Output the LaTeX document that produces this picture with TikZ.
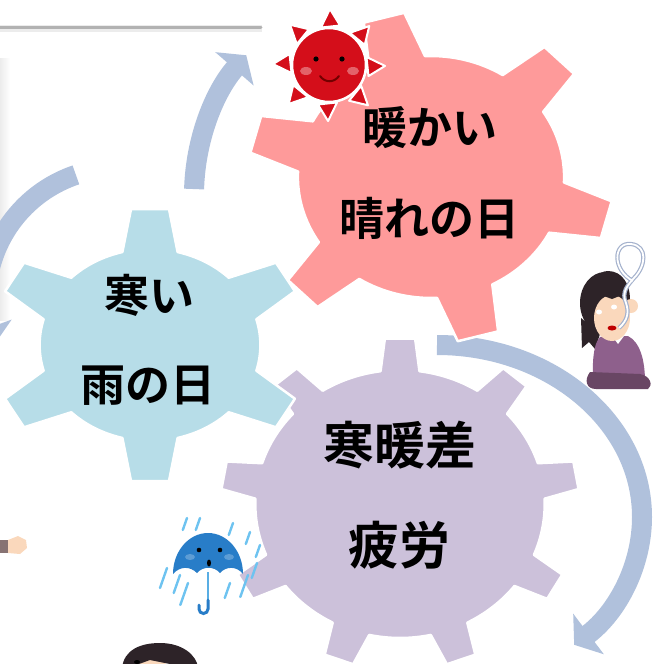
\documentclass[tikz,border=0pt]{standalone}
\usepackage{fontspec}
\newfontfamily\jpfont{Noto Sans CJK JP}[BoldFont={Noto Sans CJK JP Bold}]
\usetikzlibrary{arrows.meta}

\definecolor{coldgear}{RGB}{183,221,232}
\definecolor{warmgear}{RGB}{254,154,154}
\definecolor{tiredgear}{RGB}{204,193,218}
\definecolor{arcblue}{RGB}{176,193,220}
\definecolor{sunred}{RGB}{212,14,26}
\definecolor{umbrellablue}{RGB}{40,125,200}
\definecolor{rainblue}{RGB}{110,195,240}
\definecolor{hair}{RGB}{45,35,40}
\definecolor{skin}{RGB}{250,216,188}
\definecolor{sweater}{RGB}{142,96,140}
\definecolor{skirt}{RGB}{105,70,100}
\definecolor{sleeve}{RGB}{135,115,115}
\definecolor{smokeline}{RGB}{165,178,205}

\tikzset{
  gearedge/.style={draw=white, line width=2.5pt, line join=round},
  cyclearc/.style={draw=arcblue, line width=20pt, -{Triangle[width=50pt, length=18pt]}},
  gearlabel/.style={inner sep=0pt, font=\jpfont\bfseries\fontsize{45}{45}\selectfont},
  rain/.style={rainblue, line width=2.4pt, line cap=round},
}

% gear: colour, centre, xscale, teeth, first tooth angle, body r, tip R, tip half, base half
\newcommand{\gear}[9]{
  \begin{scope}[shift={(#2)}, xscale=#3]
    \pgfmathsetmacro\gstep{360/#4}
    \pgfmathsetmacro\gdb{asin(#9/#6)}
    \pgfmathsetmacro\gdt{asin(#8/#7)}
    \filldraw[fill=#1, gearedge] (#5-\gdb:#6)
      \foreach \i [evaluate=\i as \a using {#5+(\i-1)*\gstep}] in {1,...,#4} {
        -- (\a-\gdt:#7) -- (\a+\gdt:#7) -- (\a+\gdb:#6)
        arc[start angle=\a+\gdb, end angle=\a+\gstep-\gdb, radius=#6]
      } -- cycle;
  \end{scope}
}

\begin{document}
\begin{tikzpicture}[x=1pt, y=-1pt]
\useasboundingbox (0,0) rectangle (661,664);
\clip (0,0) rectangle (661,664);

%Frame shadow and rule
\shade[left color=gray!15, right color=white] (0,58) rectangle (10,320);
\draw[line width=7pt, gray!15] (0,28) -- (262,28);
\draw[line width=3pt, gray!60, line cap=round] (0,27) -- (261,27);

%Cycle arrows
\draw[cyclearc, shift={(118,300)}] (251.4:132) arc[start angle=251.4, end angle=160, radius=132];
\draw[cyclearc, shift={(407,195)}] (181.6:213) arc[start angle=181.6, end angle=221, radius=213];
\draw[cyclearc, shift={(437,517)}] (-90:205 and 172) arc[start angle=-90, end angle=48, x radius=205, y radius=172];

%Gears
\gear{tiredgear}{400,504}{1.08}{9}{30}{134}{166}{14}{18}
\gear{warmgear}{431,177}{1.1}{6}{15}{121}{166}{19}{26}
\gear{coldgear}{150,345}{1.15}{6}{30}{96}{137}{16.5}{24}

\node[gearlabel] (cold) at (149,295) {寒い};
\node[gearlabel] (rainy) at (148,386) {雨の日};
\node[gearlabel] (warm) at (430,128) {暖かい};
\node[gearlabel] (sunny) at (429,218) {晴れの日};
\node[gearlabel, font=\jpfont\bfseries\fontsize{51}{51}\selectfont] (gap) at (400,445) {寒暖差};
\node[gearlabel, font=\jpfont\bfseries\fontsize{51}{51}\selectfont] (fatigue) at (399,545) {疲労};

%Sun
\foreach \a in {-3,42,...,312}
  \filldraw[fill=sunred, draw=white, line width=2pt, line join=round, shift={(329,65)}, rotate=\a]
    (37,-10) -- (56,-2) -- (40,9) -- cycle;
\filldraw[fill=sunred, draw=white, line width=2.5pt] (329,65) circle[radius=37];
\fill (316,59) circle[radius=2.6];
\fill (342,59) circle[radius=2.6];
\fill[white, opacity=0.35] (306,71) ellipse[x radius=6, y radius=4];
\fill[white, opacity=0.35] (353,71) ellipse[x radius=6, y radius=4];
\draw[line width=2pt, red!45!black, line cap=round] (320,76) .. controls (325,83) and (334,83) .. (339,76);

%Umbrella and rain
\foreach \x/\y/\l in {187/518/12, 200/518/12, 233/523/12, 250/532/12, 260/545/12, 257/563/15,
                      167/568/20, 180/575/18, 188/583/22, 230/583/15, 248/575/22}
  \draw[rain] (\x,\y) -- ++(-0.35*\l,\l);
\fill[umbrellablue] (173,574) arc[start angle=180, end angle=360, x radius=35, y radius=41]
  .. controls (237,566) and (226,566) .. (220,573)
  .. controls (214,566) and (203,566) .. (197,573)
  .. controls (190,566) and (180,566) .. (173,574) -- cycle;
\draw[rainblue!70!umbrellablue, line width=2.5pt] (208,572) -- (208,604);
\draw[umbrellablue, line width=3pt, line cap=round] (208,600) -- (208,609)
  arc[start angle=0, end angle=180, radius=4.5] -- (199,605);
\fill (199,550) circle[radius=2.3];
\fill (220,550) circle[radius=2.3];
\fill (209,563) ellipse[x radius=2, y radius=3.5];
\fill[white, opacity=0.25] (190,557) ellipse[x radius=5, y radius=3];
\fill[white, opacity=0.25] (229,557) ellipse[x radius=5, y radius=3];

%Woman with a sigh
\fill[hair] (605,303) ellipse[x radius=25, y radius=31];
\fill[hair] (581,318) -- (582,348) -- (589,342) -- (595,349) -- (600,334) -- cycle;
\fill[sweater] (600,337) .. controls (592,345) and (592,372) .. (594,382) -- (645,382)
  .. controls (645,360) and (640,342) .. (628,336) -- cycle;
\fill[skirt] (590,372) .. controls (584,380) and (586,389) .. (596,389) -- (648,389)
  .. controls (653,386) and (651,376) .. (640,374) -- cycle;
\fill[white] (612,336) -- (624,336) -- (618,344) -- cycle;
\fill[skin] (612,318) ellipse[x radius=18, y radius=23];
\fill[skin] (631,306) circle[radius=7];
\fill[hair] (586,306) .. controls (588,282) and (598,271) .. (608,271)
  .. controls (622,271) and (630,284) .. (630,299) -- (622,295) -- (612,299)
  -- (601,295) -- (592,306) -- cycle;
\fill[white] (599,312) ellipse[x radius=3, y radius=2.5];
\fill[white] (614,307) ellipse[x radius=3, y radius=2.5];
\fill[red!75!black] (612,328) ellipse[x radius=4.5, y radius=2.5];
\draw[smokeline, line width=1.2pt, double=white, double distance=1.8pt]
  (619,328) .. controls (628,320) and (629,312) .. (626,303)
  .. controls (621,292) and (628,285) .. (634,278)
  .. controls (646,266) and (648,246) .. (631,244)
  .. controls (613,242) and (612,270) .. (633,281);

%Hand and head at the edges
\fill[sleeve] (0,540) rectangle (9,553);
\fill[skin] (8,540) -- (18,536) -- (26,540) -- (27,548) -- (20,554) -- (8,553) -- cycle;
\fill[skin] (145,672) ellipse[x radius=26, y radius=14];
\fill[hair] (122,668) .. controls (124,650) and (140,643) .. (160,643)
  .. controls (182,643) and (197,655) .. (198,668) -- (170,664) -- (150,660) -- (128,668) -- cycle;
\fill (137,662) ellipse[x radius=3, y radius=2];
\end{tikzpicture}
\end{document}
